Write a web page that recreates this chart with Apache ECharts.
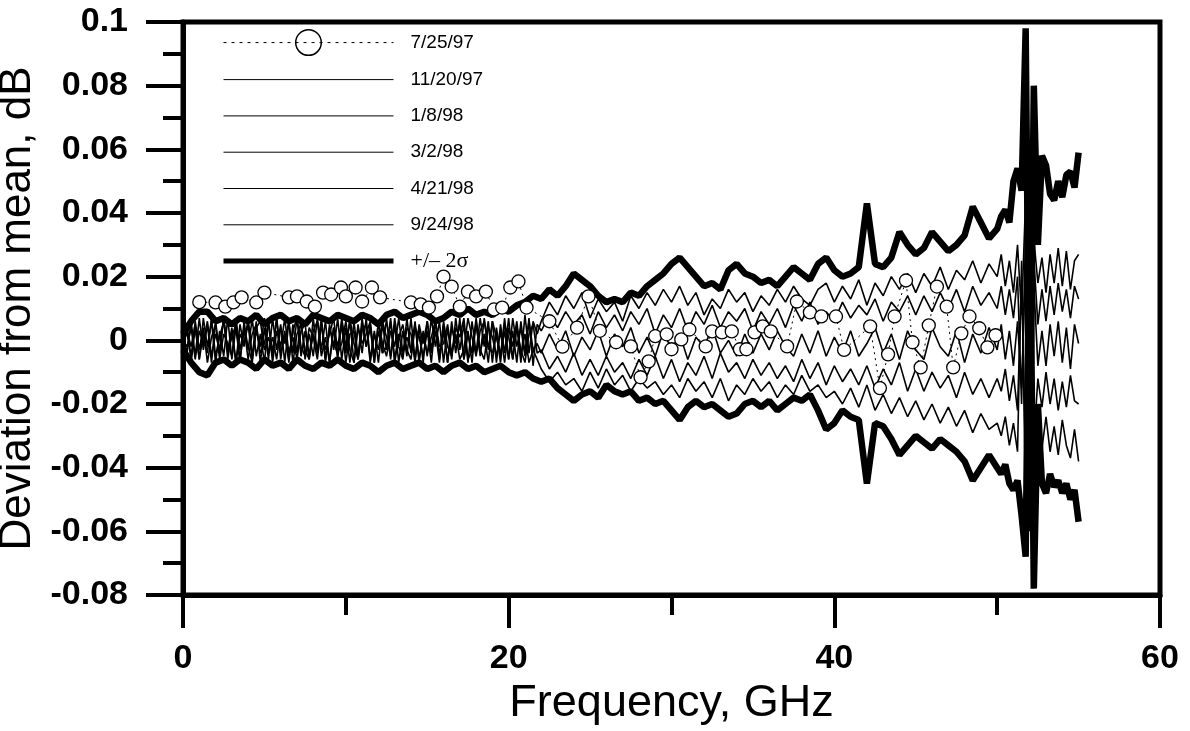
<!DOCTYPE html>
<html>
<head>
<meta charset="utf-8">
<script src="https://cdn.jsdelivr.net/npm/echarts@6/dist/echarts.min.js"></script>
<style>
  html, body { margin: 0; padding: 0; background: #fff; }
  #chart { width: 1190px; height: 731px; }
</style>
</head>
<body>
<div id="chart"></div>
<script>
// frequency points, GHz
// below 22 GHz: the +/-2 sigma lines are read every 0.5 GHz, the single sweeps every 0.25 GHz
var freqLow = [
  0, 0.5, 1, 1.5, 2, 2.5, 3, 3.5, 4, 4.5,
  5, 5.5, 6, 6.5, 7, 7.5, 8, 8.5, 9, 9.5,
  10, 10.5, 11, 11.5, 12, 12.5, 13, 13.5, 14, 14.5,
  15, 15.5, 16, 16.5, 17, 17.5, 18, 18.5, 19, 19.5,
  20, 20.5, 21, 21.5
]
var freqFine = [
  0, 0.25, 0.5, 0.75, 1, 1.25, 1.5, 1.75,
  2, 2.25, 2.5, 2.75, 3, 3.25, 3.5, 3.75,
  4, 4.25, 4.5, 4.75, 5, 5.25, 5.5, 5.75,
  6, 6.25, 6.5, 6.75, 7, 7.25, 7.5, 7.75,
  8, 8.25, 8.5, 8.75, 9, 9.25, 9.5, 9.75,
  10, 10.25, 10.5, 10.75, 11, 11.25, 11.5, 11.75,
  12, 12.25, 12.5, 12.75, 13, 13.25, 13.5, 13.75,
  14, 14.25, 14.5, 14.75, 15, 15.25, 15.5, 15.75,
  16, 16.25, 16.5, 16.75, 17, 17.25, 17.5, 17.75,
  18, 18.25, 18.5, 18.75, 19, 19.25, 19.5, 19.75,
  20, 20.25, 20.5, 20.75, 21, 21.25, 21.5, 21.75
]
var freqHigh = [
  22, 22.5, 23, 23.5, 24, 24.5,
  25, 25.5, 26, 26.5, 27, 27.5, 28, 28.5, 29, 29.5,
  30, 30.5, 31, 31.5, 32, 32.5, 33, 33.5, 34, 34.5,
  35, 35.5, 36, 36.5, 37, 37.5, 38, 38.5, 39, 39.5,
  40, 40.5, 41, 41.5, 42, 42.5, 43, 43.5, 44, 44.5,
  45, 45.5, 46, 46.5, 47, 47.5, 48, 48.5, 49, 49.5,
  50, 50.25, 50.5, 50.75, 51, 51.25, 51.5, 51.75, 52, 52.25, 52.5,
  52.75, 53, 53.25, 53.5, 53.75, 54, 54.25, 54.5, 54.75, 55
]

// all deviations below are in units of 0.001 dB
// +/-2 sigma envelope: freqLow part, then freqHigh part
var sigUpperLow = [
  2, 6, 9, 9, 6, 7, 5, 7, 6, 8,
  5, 7, 8, 6, 7, 5, 8, 7, 6, 8,
  7, 6, 8, 7, 5, 8, 9, 7, 8, 9,
  8, 6, 7, 9, 8, 10, 8, 9, 8, 10,
  9, 11, 12, 14
]
var sigUpperHigh = [
  13, 16, 14, 17, 21, 19,
  17, 14, 12, 13, 12, 15, 14, 17, 19, 21,
  24, 26, 23, 20, 17, 18, 16, 22, 24, 21,
  20, 18, 19, 17, 20, 23, 21, 19, 24, 26,
  22, 20, 21, 23, 43, 24, 23, 26, 34, 30,
  27, 29, 34, 31, 28, 30, 33, 42, 37, 32,
  35, 39, 41, 37, 50, 54, 47, 98, -40, 80, 30,
  58, 55, 46, 44, 50, 45, 52, 53, 48, 59
]
var sigLowerLow = [
  -3, -7, -10, -11, -7, -6, -8, -6, -7, -9,
  -6, -8, -7, -9, -6, -8, -9, -7, -8, -6,
  -8, -9, -7, -8, -10, -8, -7, -9, -8, -7,
  -9, -8, -10, -8, -7, -9, -8, -10, -9, -8,
  -10, -11, -10, -12
]
var sigLowerHigh = [
  -13, -12, -15, -17, -19, -17,
  -16, -18, -14, -16, -17, -16, -19, -18, -20, -19,
  -22, -25, -21, -19, -21, -20, -22, -24, -23, -20,
  -19, -21, -19, -22, -20, -18, -19, -17, -22, -28,
  -26, -22, -24, -25, -45, -26, -27, -31, -36, -33,
  -30, -32, -34, -31, -33, -35, -38, -44, -40, -36,
  -40, -42, -39, -45, -47, -44, -55, -68, 50, -78, -20,
  -45, -48, -42, -46, -44, -48, -45, -50, -47, -57
]

// single sweeps: freqFine part, then freqHigh part
var d971120Low = [
  2, -4, 6, -5, 7, -3, 5, -7,
  6, -4, 7, -6, 3, -7, 5, -2,
  7, -5, 6, -7, 4, -6, 7, -3,
  5, -7, 6, -4, 7, -5, 3, -6,
  7, -4, 6, -7, 5, -3, 7, -6,
  4, -7, 6, -5, 7, -2, 5, -7,
  6, -4, 7, -6, 5, -7, 3, -5,
  7, -6, 4, -7, 6, -3, 7, -5,
  5, -7, 6, -4, 7, -6, 3, -7,
  6, -5, 7, -3, 6, -7, 5, -4,
  7, -6, 5, -7, 8, -4, 6, 2
]
var d971120High = [
  6, 12, 8, 14, 10, 15,
  7, 13, 9, 12, 6, 14, 10, 15, 11, 16,
  12, 17, 11, 15, 8, 13, 10, 16, 12, 15,
  9, 14, 11, 16, 12, 17, 13, 11, 16, 18,
  12, 17, 13, 19, 11, 18, 14, 20, 16, 21,
  15, 21, 17, 23, 16, 22, 19, 25, 18, 24,
  20, 27, 17, 25, 15, 30, 8, 45, -40, 32, 18,
  26, 15, 27, 18, 29, 17, 28, 16, 25, 27
]
var d980108Low = [
  -3, 5, -7, 4, -6, 7, -2, 6,
  -7, 3, -5, 7, -6, 4, -7, 6,
  -3, 7, -5, 2, -7, 6, -4, 7,
  -6, 3, -7, 5, -4, 7, -6, 2,
  -5, 7, -3, 6, -7, 4, -6, 7,
  -2, 6, -7, 5, -4, 7, -6, 3,
  -7, 5, -3, 7, -6, 2, -5, 7,
  -4, 6, -7, 3, -5, 7, -2, 6,
  -7, 4, -6, 7, -3, 5, -7, 6,
  -4, 7, -2, 6, -7, 4, -5, 7,
  -6, 3, -7, 6, -4, 7, -8, 5
]
var d980108High = [
  3, 8, 4, 9, 5, 8,
  2, 9, 4, 8, 3, 9, 5, 10, 2, 8,
  4, 10, 3, 9, 5, 11, 4, 9, 6, 10,
  3, 9, 5, 10, 4, 11, 6, 12, 5, 9,
  6, 12, 7, 11, 8, 13, 6, 12, 9, 14,
  8, 14, 9, 15, 10, 16, 9, 17, 11, 15,
  10, 17, 8, 16, 7, 20, -20, 35, -50, 26, 5,
  16, 6, 17, 8, 18, 9, 16, 7, 17, 13
]
var d980302Low = [
  0, 3, -2, 5, -6, 2, -4, 7,
  -5, 1, 6, -3, 4, -7, 2, -1,
  5, -6, 3, -2, 7, -4, 1, -6,
  4, -1, 6, -7, 2, 5, -3, -6,
  3, 6, -5, 1, -7, 4, -2, 6,
  -4, 7, -1, -6, 3, 5, -7, 2,
  -3, 6, 1, -5, 7, -2, -6, 4,
  2, -7, 5, -1, 6, -4, 3, -7,
  6, -2, -5, 4, 1, 7, -6, -3,
  5, -4, 2, -7, 6, 1, -5, 3,
  -6, 7, -2, 4, -5, 6, -3, -1
]
var d980302High = [
  -4, 2, -3, 3, -5, 1,
  -3, 3, -5, 2, -2, 4, -4, 1, -5, 3,
  -3, 2, -6, 1, -2, 4, -4, 0, -5, 2,
  -4, 2, -3, 3, -2, -5, 2, -4, 3, -5,
  1, -4, 3, -5, -1, 4, -4, 2, -6, 3,
  -3, -6, 4, -2, -5, 3, -7, 2, -4, 4,
  -3, 5, -6, 3, -8, 6, -15, 25, -60, 18, -8,
  3, -8, 5, -5, 6, -7, 4, -9, 5, -1
]
var d980421Low = [
  0, -2, 4, -6, 3, -1, 6, -5,
  2, -3, 7, -4, 1, 5, -6, 3,
  -2, -7, 4, 6, -3, 1, -5, 7,
  -4, 2, -6, 3, 7, -2, -5, 4,
  1, -6, 5, -3, 2, 7, -4, -1,
  6, -3, -7, 4, -1, 2, 6, -5,
  3, -4, -2, 6, -7, 1, 5, -3,
  -6, 4, 1, -5, 3, -7, 6, -2,
  -1, 5, -4, 2, -6, -3, 7, 1,
  -5, 3, 6, -2, -4, 2, -7, 5,
  1, -6, 4, -3, -7, 2, 5, -4
]
var d980421High = [
  -3, -9, -5, -10, -4, -11,
  -6, -11, -5, -10, -7, -12, -6, -11, -5, -12,
  -6, -13, -7, -11, -5, -12, -4, -10, -7, -12,
  -6, -11, -7, -12, -8, -13, -6, -12, -7, -14,
  -8, -13, -9, -14, -8, -15, -9, -14, -7, -16,
  -9, -16, -10, -15, -11, -18, -10, -17, -12, -18,
  -12, -16, -9, -19, -11, -22, 20, -40, 45, -32, -12,
  -21, -10, -20, -12, -22, -13, -21, -11, -19, -20
]
var d980924Low = [
  0, 2, -5, 6, -3, 4, -7, 1,
  5, -6, 2, -1, -5, 7, -3, 4,
  -6, 2, 5, -4, -1, 6, -7, 3,
  -2, 7, -4, 1, -6, 3, 5, -5,
  2, -3, 7, -6, 4, -1, -4, 5,
  -7, 2, 3, -6, 5, -2, 4, -7,
  6, -1, -5, 3, -2, 7, -4, 1,
  -3, 5, -6, 2, -4, 1, 6, -6,
  3, -7, 4, -1, 5, -6, 2, -4,
  7, -3, -6, 4, 1, -5, 3, -7,
  4, -2, 6, -5, 2, -7, -3, -6
]
var d980924High = [
  -9, -13, -10, -14, -12, -16,
  -10, -15, -9, -14, -11, -16, -12, -15, -13, -17,
  -14, -18, -12, -16, -13, -18, -12, -19, -14, -17,
  -12, -16, -13, -18, -14, -17, -11, -16, -14, -18,
  -16, -20, -15, -21, -14, -22, -17, -23, -18, -24,
  -19, -25, -20, -26, -21, -27, -22, -29, -23, -28,
  -26, -30, -24, -33, -26, -35, 25, -50, 60, -42, -28,
  -34, -24, -35, -27, -36, -25, -33, -37, -28, -38
]

// 7/25/97 is plotted with circles at its own (sparser) points
var freq970725 = [
  1.0, 2.0, 2.6, 3.1, 3.6, 4.5, 5.0, 6.5, 7.0, 7.6,
  8.1, 8.6, 9.1, 9.7, 10.0, 10.6, 11.0, 11.6, 12.1, 14.0,
  14.6, 15.1, 15.6, 16.0, 16.5, 17.0, 17.5, 18.0, 18.6, 19.1,
  19.6, 20.1, 20.6, 21.1, 22.5, 23.3, 24.2, 24.9, 25.6, 26.6,
  27.5, 28.1, 28.6, 29.0, 29.7, 30.0, 30.6, 31.1, 32.1, 32.5,
  33.1, 33.7, 34.2, 34.6, 35.1, 35.6, 36.1, 37.1, 37.7, 38.5,
  39.2, 40.1, 40.6, 42.2, 42.8, 43.3, 43.7, 44.4, 44.8, 45.3,
  45.8, 46.3, 46.9, 47.3, 47.8, 48.3, 48.9, 49.4, 49.9
]
var d970725 = [
  12, 11.9, 10.6, 11.9, 13.5, 11.9, 15, 13.5, 13.8, 12.2,
  10.6, 15, 14.4, 16.6, 13.8, 16.6, 12.2, 16.6, 13.5, 11.9,
  11.3, 10.3, 13.8, 20, 16.9, 10.6, 15.3, 13.8, 15.3, 9.7,
  10.3, 16.6, 18.5, 10.3, 6, -2, 4, 13.8, 3, -0.6,
  -1.9, -11.6, -6.6, 1.3, 1.9, -2.8, 0.3, 3.4, -1.9, 2.8,
  2.5, 2.8, -2.8, -2.8, 2.5, 4.4, 2.8, -1.9, 12.2, 8.8,
  7.5, 7.5, -3, 4.4, -15, -4.4, 7.5, 18.8, -0.6, -8.5,
  4.7, 16.9, 10.6, -8.5, 2.2, 7.5, 3.8, -2.2, 1.6
]
var yTicks = [-0.08, -0.06, -0.04, -0.02, 0, 0.02, 0.04, 0.06, 0.08, 0.1]

var SIG = '+/\u2013 2\u03c3'
var thinNames = ['11/20/97', '1/8/98', '3/2/98', '4/21/98', '9/24/98']
var thinLow = [d971120Low, d980108Low, d980302Low, d980421Low, d980924Low]
var thinHigh = [d971120High, d980108High, d980302High, d980421High, d980924High]

function pairs(xs, ys) {
  return ys.map(function (v, i) { return [xs[i], v / 1000] })
}

var chart = echarts.init(document.getElementById('chart'))

var series = []
thinNames.forEach(function (name, i) {
  series.push({
    name: name,
    type: 'line',
    symbol: 'none',
    z: 2,
    lineStyle: { color: '#000', width: 1.6 },
    itemStyle: { color: '#000' },
    data: pairs(freqFine, thinLow[i]).concat(pairs(freqHigh, thinHigh[i]))
  })
})
;[[sigUpperLow, sigUpperHigh], [sigLowerLow, sigLowerHigh]].forEach(function (p) {
  series.push({
    name: SIG,
    type: 'line',
    symbol: 'none',
    z: 3,
    lineStyle: { color: '#000', width: 6.5 },
    itemStyle: { color: '#000' },
    data: pairs(freqLow, p[0]).concat(pairs(freqHigh, p[1]))
  })
})
series.push({
  name: '7/25/97',
  type: 'line',
  symbol: 'circle',
  symbolSize: 13,
  z: 4,
  lineStyle: { color: '#000', width: 1, type: [2, 4] },
  itemStyle: { color: '#fff', borderColor: '#000', borderWidth: 1.3 },
  data: pairs(freq970725, d970725)
})

var font = '"Liberation Sans", Arial, Helvetica, sans-serif'

var legendData = [{
  name: '7/25/97',
  itemStyle: { opacity: 1, color: 'rgba(0,0,0,0)', borderColor: '#000', borderWidth: 1.5 },
  lineStyle: { color: '#000', width: 1, type: [3, 5] }
}]
thinNames.forEach(function (n) {
  legendData.push({ name: n, lineStyle: { color: '#000', width: 1, type: 'solid' } })
})
legendData.push({ name: SIG, lineStyle: { color: '#000', width: 5, type: 'solid' } })

var option = {
  animation: false,
  backgroundColor: '#fff',
  grid: {
    left: 183, right: 30, top: 22, bottom: 136,
    outerBoundsMode: 'none',
    containLabel: false,
    show: true, borderColor: '#000', borderWidth: 5
  },
  legend: {
    orient: 'vertical',
    left: 221,
    top: 29,
    padding: 0,
    itemWidth: 170,
    itemHeight: 32,
    itemGap: 10.7,
    selectedMode: false,
    itemStyle: { opacity: 0 },
    data: legendData,
    formatter: function (n) { return n === SIG ? '{s|' + n + '}' : n },
    textStyle: {
      color: '#000', fontSize: 19, fontFamily: font, padding: [0, 0, 0, 12],
      rich: { s: { fontFamily: '"Liberation Serif", "Times New Roman", serif', fontSize: 22, color: '#000' } }
    }
  },
  xAxis: {
    type: 'value',
    min: 0, max: 60, interval: 20,
    name: 'Frequency, GHz',
    nameLocation: 'middle',
    nameGap: 84,
    nameTextStyle: { color: '#000', fontSize: 45, fontFamily: font },
    axisLine: { onZero: false, lineStyle: { color: '#000', width: 5 } },
    axisTick: { inside: false, length: 33, lineStyle: { color: '#000', width: 4 } },
    minorTick: { show: true, splitNumber: 2, length: 20, lineStyle: { color: '#000', width: 4 } },
    axisLabel: { color: '#000', fontSize: 34, fontWeight: 'bold', fontFamily: font, margin: 47 },
    splitLine: { show: false },
    minorSplitLine: { show: false }
  },
  yAxis: {
    type: 'value',
    min: yTicks[0], max: yTicks[yTicks.length - 1], interval: 0.02,
    name: 'Deviation from mean, dB',
    nameLocation: 'middle',
    nameGap: 128,
    nameTextStyle: { color: '#000', fontSize: 44, fontFamily: font },
    axisLine: { onZero: false, lineStyle: { color: '#000', width: 5 } },
    axisTick: { inside: false, length: 37, lineStyle: { color: '#000', width: 4 } },
    minorTick: { show: true, splitNumber: 2, length: 20, lineStyle: { color: '#000', width: 4 } },
    axisLabel: {
      color: '#000', fontSize: 34, fontWeight: 'bold', fontFamily: font, margin: 55,
      formatter: function (v) { return Math.abs(v) < 1e-9 ? '0' : String(+v.toFixed(2)) }
    },
    splitLine: { show: false },
    minorSplitLine: { show: false }
  },
  series: series
}
chart.setOption(option)
</script>
</body>
</html>
